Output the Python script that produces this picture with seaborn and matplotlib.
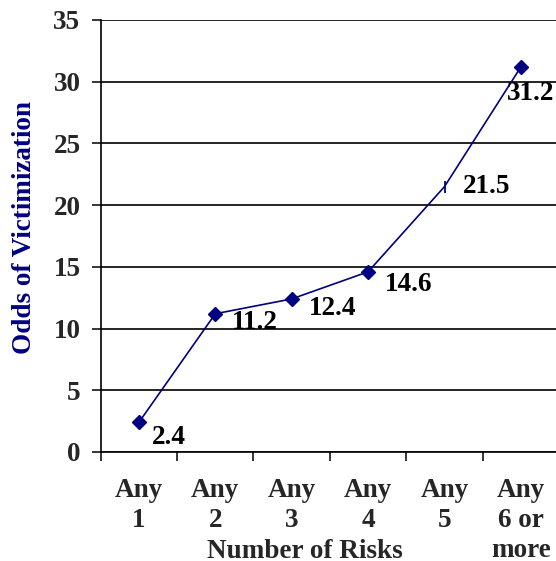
import matplotlib
matplotlib.use("Agg")
import matplotlib.pyplot as plt
import seaborn as sns
import pandas as pd

# Data
categories = ["Any\n1", "Any\n2", "Any\n3", "Any\n4", "Any\n5", "Any\n6 or\nmore"]
odds = [2.4, 11.2, 12.4, 14.6, 21.5, 31.2]
point_markers = ["D", "D", "D", "D", "|", "D"]
y_ticks = [0, 5, 10, 15, 20, 25, 30, 35]

# Label placement relative to each point (pixels: right, up)
label_offsets = [(13, -15), (17, -9), (17, -10), (17, -13), (18, 0), (-14, -27)]

sns.set_style("white")
plt.rcParams["font.family"] = ["Liberation Serif", "DejaVu Serif"]
plt.rcParams["font.weight"] = "bold"

NAVY = "#000080"
FS = 19.5

df = pd.DataFrame({"pos": range(len(categories)), "odds": odds})

fig = plt.figure(figsize=(5.56, 5.61), dpi=100)
ax = fig.add_axes([0.1811, 0.1943, 0.8245, 0.7701])

sns.lineplot(data=df, x="pos", y="odds", color=NAVY, linewidth=1.2, ax=ax)
for x, y, m in zip(df["pos"], df["odds"], point_markers):
    if m == "|":
        ax.plot(x, y, marker="|", markersize=8, markeredgewidth=1.3,
                color=NAVY, linestyle="none", clip_on=False)
    else:
        ax.plot(x, y, marker="D", markersize=7.5, color=NAVY,
                linestyle="none", clip_on=False)

for x, y, (dx, dy) in zip(df["pos"], df["odds"], label_offsets):
    ax.annotate(f"{y:.1f}", (x, y), xytext=(dx, dy), textcoords="offset pixels",
                ha="left", va="center", fontsize=FS, fontweight="bold",
                color="black", annotation_clip=False)

ax.set_xlim(-0.5, len(categories) - 0.5)
ax.set_ylim(0, 35)
ax.set_yticks(y_ticks)
ax.set_yticklabels([str(t) for t in y_ticks], fontsize=FS, fontweight="bold")

# Major ticks mark category boundaries, minor ticks carry the labels
n = len(categories)
ax.set_xticks([i - 0.5 for i in range(n + 1)])
ax.set_xticklabels([])
ax.set_xticks(list(range(n)), minor=True)
ax.set_xticklabels(categories, minor=True, fontsize=FS, fontweight="bold",
                   linespacing=1.25)
ax.tick_params(axis="x", which="major", direction="out", length=6.5,
               width=1.1, color="black", bottom=True)
ax.tick_params(axis="x", which="minor", length=0, pad=19)
ax.tick_params(axis="y", which="major", direction="out", length=6.5,
               width=1.1, color="black", left=True, pad=8)

ax.yaxis.grid(True, color="black", linewidth=1.2)
ax.xaxis.grid(False)
ax.set_axisbelow(True)

for side in ["top", "right"]:
    ax.spines[side].set_visible(False)
for side in ["left", "bottom"]:
    ax.spines[side].set_color("black")
    ax.spines[side].set_linewidth(1.2)

ax.set_xlabel("Number of Risks", fontsize=FS, fontweight="bold", va="center")
ax.xaxis.set_label_coords(0.4457, -0.2300)
ax.set_ylabel("Odds of Victimization", fontsize=FS, fontweight="bold",
              color=NAVY, va="center")
ax.yaxis.set_label_coords(-0.167, 0.5185)

fig.savefig("out.png", dpi=100)
